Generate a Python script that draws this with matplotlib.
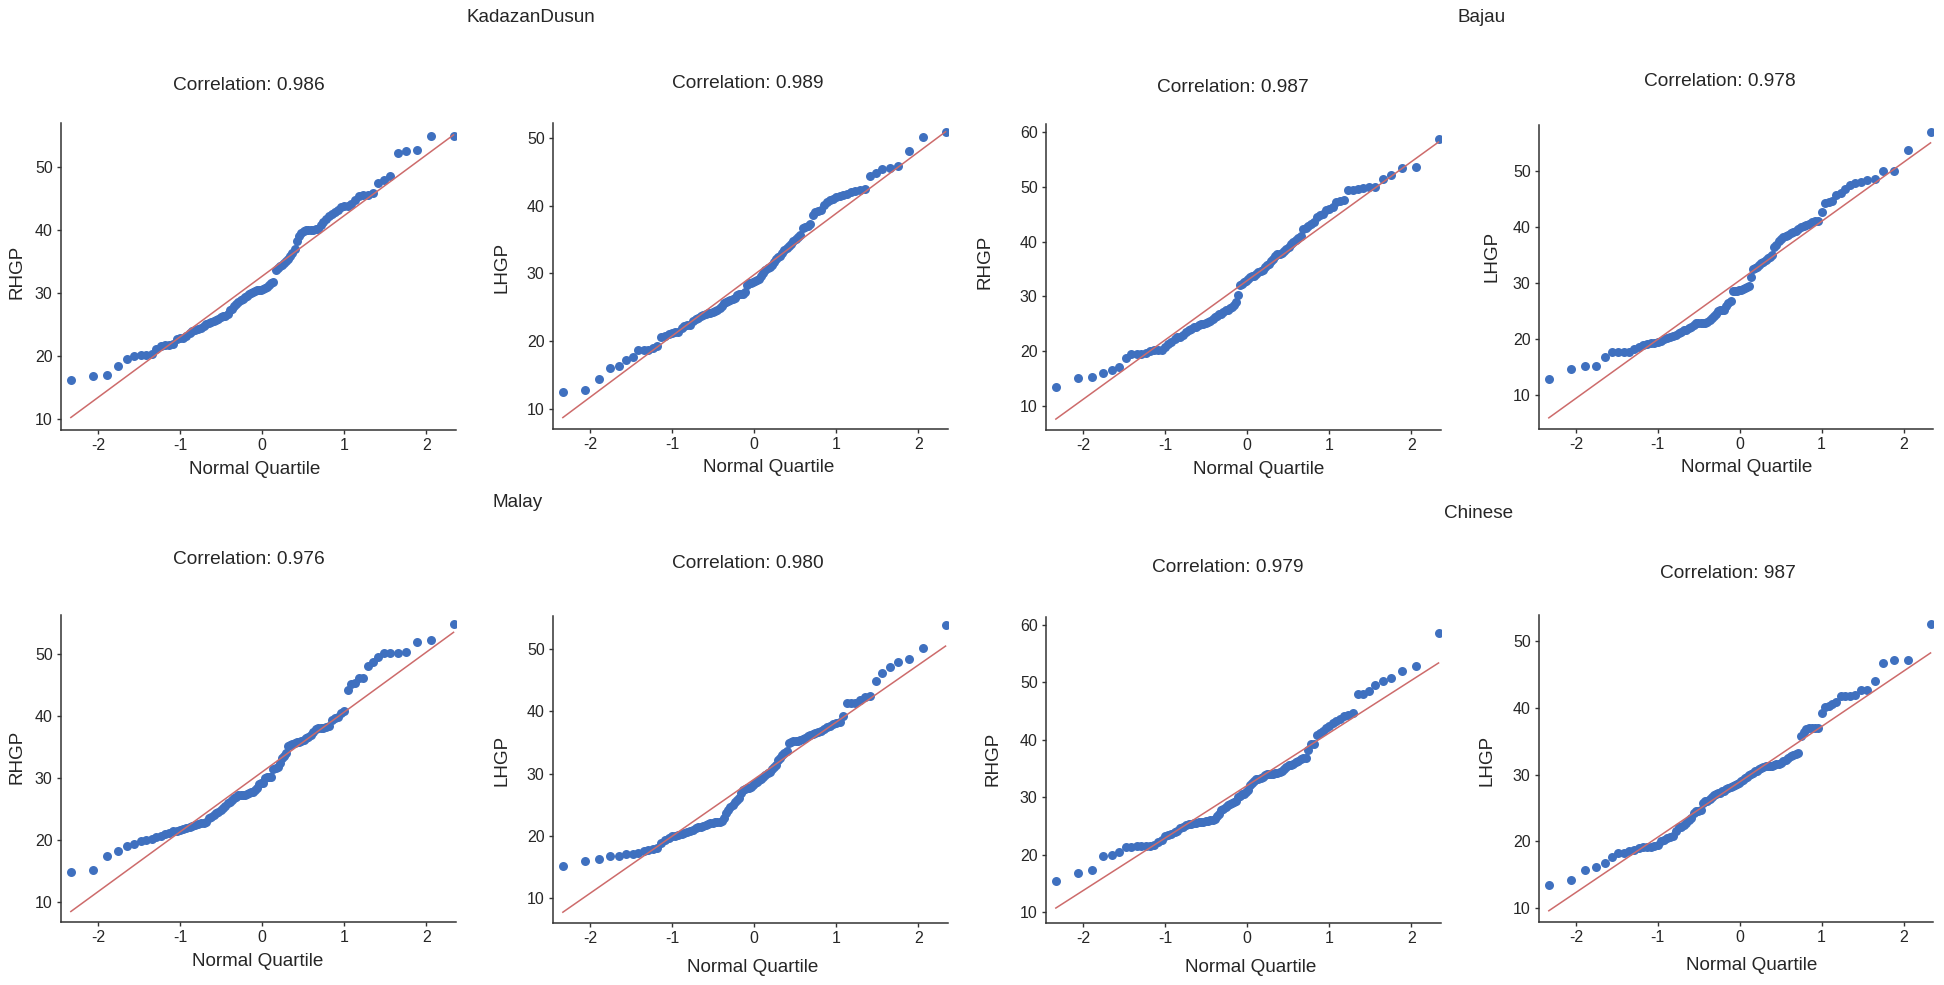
"""Normal Q-Q plots of hand grip power (RHGP / LHGP) for four ethnic groups."""
from statistics import NormalDist

import matplotlib

matplotlib.use("Agg")
import matplotlib.pyplot as plt  # noqa: E402
import numpy as np  # noqa: E402

plt.rcParams["font.family"] = ["Liberation Sans", "DejaVu Sans"]
plt.rcParams["axes.unicode_minus"] = False  # source uses a plain hyphen on ticks

# sorted sample values (n = 100 per panel)
kd_rhgp = [16.1, 16.8, 17.0, 18.4, 19.5, 19.9, 20.1, 20.2, 20.3, 21.0,
           21.6, 21.7, 21.7, 21.8, 22.6, 22.8, 22.9, 23.2, 23.6, 24.0,
           24.1, 24.2, 24.4, 24.8, 25.0, 25.2, 25.4, 25.6, 25.7, 25.9,
           26.1, 26.3, 26.4, 26.7, 27.2, 27.4, 27.9, 28.3, 28.6, 28.8,
           29.0, 29.3, 29.5, 29.8, 30.0, 30.2, 30.3, 30.4, 30.5, 30.5,
           30.6, 30.8, 30.9, 31.3, 31.6, 31.8, 33.6, 33.9, 34.2, 34.5,
           34.8, 35.0, 35.4, 35.8, 36.4, 36.9, 38.2, 39.1, 39.5, 39.8,
           40.0, 40.0, 40.0, 40.0, 40.1, 40.2, 40.8, 41.3, 41.8, 42.2,
           42.5, 42.9, 43.1, 43.7, 43.8, 43.8, 44.1, 44.8, 45.4, 45.5,
           45.6, 45.9, 47.4, 48.0, 48.6, 52.3, 52.5, 52.7, 54.9, 55.0]
kd_lhgp = [12.5, 12.8, 14.4, 16.0, 16.3, 17.2, 17.7, 18.6, 18.7, 18.7,
           19.0, 19.2, 20.6, 20.8, 21.0, 21.2, 21.3, 21.4, 21.9, 22.2,
           22.3, 22.4, 22.9, 23.2, 23.4, 23.7, 23.9, 24.0, 24.1, 24.1,
           24.3, 24.5, 24.6, 24.9, 25.2, 25.6, 25.8, 25.9, 26.1, 26.2,
           26.4, 26.8, 26.9, 27.0, 27.0, 27.2, 28.3, 28.5, 28.6, 28.7,
           28.8, 29.0, 29.2, 29.6, 30.0, 30.5, 30.8, 31.0, 31.2, 31.7,
           32.1, 32.4, 32.6, 33.0, 33.5, 33.8, 34.0, 34.3, 34.7, 35.1,
           35.4, 35.7, 36.7, 36.9, 37.0, 37.3, 38.6, 39.0, 39.2, 39.4,
           40.1, 40.6, 40.9, 41.0, 41.2, 41.4, 41.6, 41.7, 42.0, 42.2,
           42.3, 42.4, 44.3, 44.8, 45.4, 45.6, 45.8, 48.1, 50.1, 50.9]
bj_rhgp = [13.5, 15.1, 15.3, 16.0, 16.5, 17.1, 18.8, 19.4, 19.4, 19.5,
           19.7, 20.0, 20.3, 20.3, 20.3, 20.8, 21.4, 21.7, 22.3, 22.5,
           22.6, 22.9, 23.5, 23.8, 24.1, 24.4, 24.5, 24.7, 24.9, 25.0,
           25.1, 25.3, 25.6, 25.9, 26.2, 26.5, 26.7, 26.8, 27.2, 27.5,
           27.6, 27.8, 28.1, 28.4, 29.0, 30.2, 32.0, 32.3, 32.6, 32.9,
           33.2, 33.5, 33.7, 33.8, 34.1, 34.5, 34.6, 34.9, 35.4, 35.7,
           36.0, 36.5, 36.9, 37.4, 37.7, 37.8, 37.9, 38.3, 38.7, 39.1,
           39.6, 39.9, 40.4, 40.7, 41.1, 42.4, 42.5, 42.8, 43.2, 43.6,
           44.5, 44.8, 45.1, 45.8, 45.9, 46.3, 47.2, 47.5, 47.6, 49.4,
           49.5, 49.7, 49.8, 49.9, 50.0, 51.5, 52.1, 53.5, 53.7, 58.8]
bj_lhgp = [12.9, 14.6, 15.2, 15.2, 16.8, 17.6, 17.6, 17.6, 17.7, 18.2,
           18.5, 18.9, 19.0, 19.2, 19.3, 19.5, 19.7, 19.9, 20.1, 20.3,
           20.5, 20.7, 21.0, 21.3, 21.5, 21.6, 21.9, 22.2, 22.5, 22.8,
           22.9, 22.9, 22.9, 22.9, 23.1, 23.4, 23.7, 24.1, 24.5, 24.9,
           25.1, 25.1, 25.2, 25.8, 26.4, 26.7, 28.5, 28.5, 28.6, 28.7,
           28.8, 28.9, 29.0, 29.3, 29.5, 31.1, 32.4, 32.6, 32.9, 33.2,
           33.5, 33.8, 34.1, 34.4, 34.7, 34.9, 36.4, 36.8, 37.4, 37.8,
           38.2, 38.4, 38.6, 38.9, 39.0, 39.3, 39.6, 39.9, 40.1, 40.4,
           40.5, 40.8, 41.0, 41.1, 42.7, 44.3, 44.5, 44.7, 45.7, 46.0,
           46.8, 47.5, 47.8, 48.1, 48.4, 48.5, 49.9, 49.9, 53.8, 57.0]
ml_rhgp = [14.9, 15.2, 17.4, 18.2, 19.1, 19.4, 19.8, 20.1, 20.2, 20.5,
           20.7, 21.0, 21.2, 21.4, 21.5, 21.7, 21.8, 21.9, 22.1, 22.2,
           22.4, 22.6, 22.7, 22.8, 23.0, 23.5, 23.8, 24.1, 24.4, 24.5,
           24.9, 25.2, 25.5, 26.0, 26.2, 26.5, 26.8, 27.0, 27.2, 27.2,
           27.3, 27.3, 27.4, 27.6, 27.7, 27.8, 28.1, 28.4, 29.1, 29.2,
           29.2, 30.0, 30.1, 30.1, 30.1, 31.5, 31.6, 31.8, 32.4, 33.2,
           33.6, 34.1, 35.1, 35.4, 35.5, 35.6, 35.8, 35.9, 36.0, 36.2,
           36.5, 36.7, 37.0, 37.5, 37.9, 38.1, 38.1, 38.1, 38.2, 38.4,
           39.4, 39.7, 39.8, 40.5, 40.8, 44.2, 45.2, 45.4, 46.1, 46.2,
           48.0, 48.7, 49.6, 50.1, 50.2, 50.2, 50.3, 51.9, 52.2, 54.9]
ml_lhgp = [15.1, 15.9, 16.2, 16.7, 16.7, 17.1, 17.1, 17.2, 17.5, 17.7,
           17.9, 18.0, 18.8, 19.4, 19.6, 19.9, 19.9, 20.2, 20.3, 20.4,
           20.6, 20.8, 21.0, 21.2, 21.4, 21.4, 21.5, 21.8, 21.9, 22.0,
           22.1, 22.2, 22.2, 22.2, 22.3, 22.9, 23.7, 24.2, 24.7, 25.0,
           25.4, 25.8, 26.1, 26.9, 27.3, 27.5, 27.6, 27.7, 27.9, 28.2,
           28.5, 28.7, 28.9, 29.1, 29.4, 29.7, 30.1, 30.3, 30.7, 31.0,
           31.3, 32.2, 32.5, 33.0, 33.3, 33.7, 34.9, 35.0, 35.2, 35.2,
           35.3, 35.4, 35.5, 35.7, 36.0, 36.2, 36.4, 36.5, 36.7, 36.9,
           37.1, 37.5, 37.7, 38.0, 38.1, 38.2, 39.2, 41.4, 41.4, 41.4,
           41.8, 42.3, 42.4, 44.8, 46.1, 47.1, 47.9, 48.4, 50.1, 53.8]
ch_rhgp = [15.5, 16.8, 17.4, 19.7, 19.9, 20.5, 21.3, 21.3, 21.5, 21.5,
           21.5, 21.5, 21.6, 22.2, 22.5, 23.2, 23.4, 23.6, 23.9, 24.2,
           24.7, 24.8, 25.1, 25.3, 25.4, 25.5, 25.5, 25.7, 25.7, 25.7,
           25.9, 25.9, 26.0, 26.1, 26.3, 26.7, 27.1, 27.7, 28.0, 28.3,
           28.6, 28.8, 29.0, 29.2, 29.3, 30.0, 30.3, 30.5, 30.6, 30.9,
           31.2, 32.1, 32.5, 32.8, 33.1, 33.2, 33.3, 33.5, 33.8, 34.0,
           34.1, 34.1, 34.1, 34.2, 34.2, 34.4, 34.6, 35.0, 35.3, 35.6,
           35.7, 35.8, 36.1, 36.4, 36.7, 36.9, 36.9, 38.3, 39.2, 39.3,
           40.8, 41.2, 41.6, 42.0, 42.4, 43.0, 43.3, 43.6, 44.1, 44.3,
           44.7, 48.0, 48.0, 48.5, 49.5, 50.2, 50.7, 52.0, 52.8, 58.6]
ch_lhgp = [13.5, 14.2, 15.7, 16.2, 16.7, 17.7, 18.2, 18.3, 18.5, 18.7,
           19.0, 19.1, 19.2, 19.2, 19.3, 19.5, 20.0, 20.2, 20.5, 20.7,
           20.8, 21.5, 22.1, 22.2, 22.5, 22.7, 23.2, 23.5, 24.2, 24.5,
           24.6, 24.7, 25.8, 26.0, 26.1, 26.3, 26.7, 27.0, 27.1, 27.2,
           27.3, 27.5, 27.6, 27.8, 28.0, 28.1, 28.3, 28.5, 28.6, 28.8,
           29.0, 29.2, 29.5, 29.7, 30.0, 30.1, 30.3, 30.5, 30.6, 30.8,
           31.0, 31.1, 31.2, 31.2, 31.3, 31.3, 31.4, 31.5, 31.6, 31.7,
           32.0, 32.2, 32.5, 32.7, 32.9, 33.1, 33.2, 35.7, 36.4, 36.8,
           36.9, 36.9, 36.9, 36.9, 39.2, 40.1, 40.2, 40.6, 40.9, 41.7,
           41.8, 41.8, 41.9, 42.6, 42.7, 44.0, 46.7, 47.2, 47.2, 52.6]

samples = [kd_rhgp, kd_lhgp, bj_rhgp, bj_lhgp, ml_rhgp, ml_lhgp, ch_rhgp, ch_lhgp]
y_labels = ["RHGP", "LHGP", "RHGP", "LHGP", "RHGP", "LHGP", "RHGP", "LHGP"]
correlations = ["0.986", "0.989", "0.987", "0.978", "0.976", "0.980", "0.979", "987"]
# reference line (centre + scale * z) as drawn in the source
ref_center = [32.65, 29.8, 32.9, 30.45, 31.0, 29.1, 32.05, 28.9]
ref_scale = [9.64, 9.06, 10.86, 10.54, 9.66, 9.17, 9.16, 8.29]
groups = ["KadazanDusun", "Bajau", "Malay", "Chinese"]

# layout in pixels of the 1944x985 canvas: (left, right, top, bottom) of each axes
W, H = 1944, 985
boxes = [(61, 456, 123, 430), (553, 948, 123, 429), (1046, 1441, 124, 430), (1539, 1933, 125, 429),
         (61, 456, 615, 922), (553, 948, 616, 923), (1046, 1441, 617, 923), (1539, 1933, 615, 922)]
ylims = [(8.2, 57.0), (7.0, 52.2), (5.6, 61.5), (3.9, 58.2),
         (6.8, 56.3), (6.0, 55.3), (8.1, 61.4), (7.9, 53.9)]
title_pos = [(249, 86), (748, 84), (1233, 88), (1720, 82),
             (249, 559), (748, 563), (1228, 568), (1728, 573)]
xlabel_pos = [(255, 470), (769, 468), (1259, 470), (1747, 468),
              (258, 962), (753, 967), (1251, 967), (1752, 965)]
ylabel_pos = [(17, 272), (502, 267), (985, 262), (1492, 256),
              (17, 757), (502, 760), (993, 759), (1487, 760)]
group_pos = [(531, 18), (1482, 17), (518, 503), (1479, 513)]

DOT = "#3f70bf"
LINE = "#cd6b6b"
TXT = "#262626"


def fx(px):
    return px / W


def fy(py):
    return 1 - py / H


fig = plt.figure(figsize=(W / 100, H / 100), dpi=100)

for k, y in enumerate(samples):
    l, r, t, b = boxes[k]
    ax = fig.add_axes([fx(l), fy(b), (r - l) / W, (b - t) / H])
    n = len(y)
    z = np.array([NormalDist().inv_cdf(i / (n + 1)) for i in range(1, n + 1)])
    ax.scatter(z, y, s=42, color=DOT, linewidths=0, zorder=2)
    zz = np.array([z.min(), z.max()])
    ax.plot(zz, ref_center[k] + ref_scale[k] * zz, color=LINE, lw=1.1, zorder=3)

    ax.set_xlim(-2.45, 2.36)
    ax.set_ylim(*ylims[k])
    ax.set_xticks([-2, -1, 0, 1, 2])
    ax.set_yticks(np.arange(10, ylims[k][1], 10))
    for side in ("top", "right"):
        ax.spines[side].set_visible(False)
    for side in ("left", "bottom"):
        ax.spines[side].set_color("#333333")
        ax.spines[side].set_linewidth(1.1)
    ax.tick_params(length=3, width=1, color="#333333", labelsize=11.5, labelcolor=TXT, pad=3)

    fig.text(fx(title_pos[k][0]), fy(title_pos[k][1]), f"Correlation: {correlations[k]}",
             ha="center", va="center", fontsize=13.8, color=TXT)
    fig.text(fx(xlabel_pos[k][0]), fy(xlabel_pos[k][1]), "Normal Quartile",
             ha="center", va="center", fontsize=13.6, color=TXT)
    fig.text(fx(ylabel_pos[k][0]), fy(ylabel_pos[k][1]), y_labels[k], rotation=90,
             ha="center", va="center", fontsize=13.6, color=TXT)

for name, (gx, gy) in zip(groups, group_pos):
    fig.text(fx(gx), fy(gy), name, ha="center", va="center", fontsize=13.6, color=TXT)

fig.savefig("out.png", dpi=100, facecolor="white")
